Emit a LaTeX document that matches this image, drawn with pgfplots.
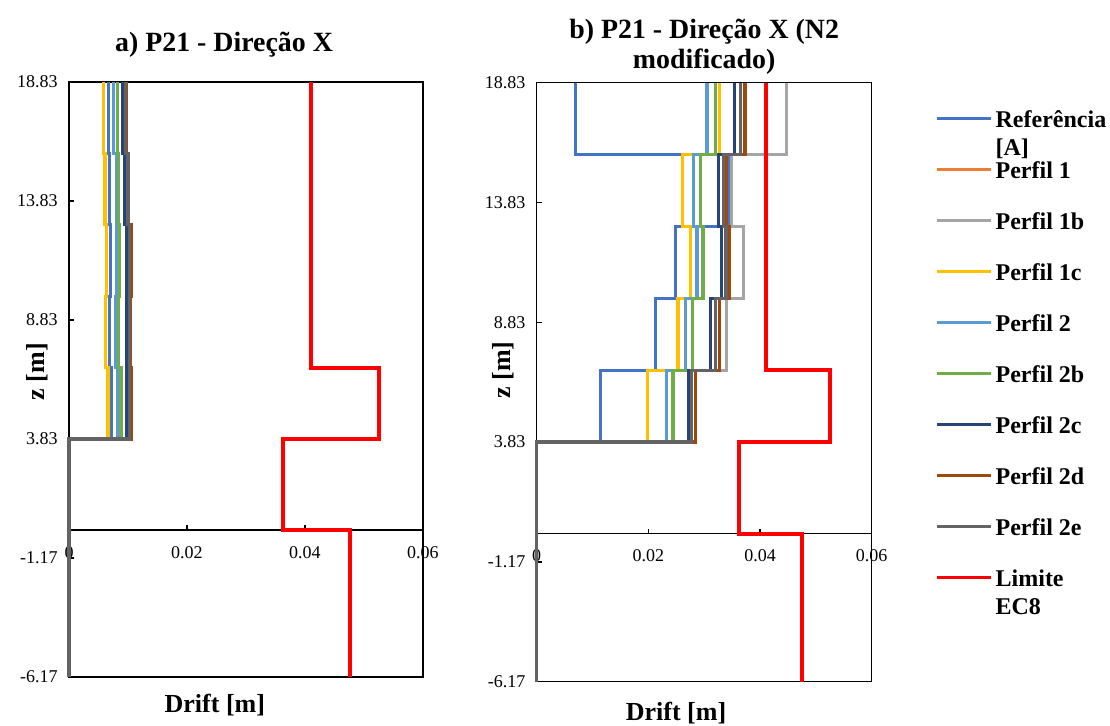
\documentclass[border=0pt]{standalone}
\usepackage{fontspec}
\setmainfont{Liberation Serif}
\usepackage{pgfplots}
\pgfplotsset{compat=1.18}
\definecolor{cRef}{HTML}{4472C4}
\definecolor{cP1}{HTML}{ED7D31}
\definecolor{cP1b}{HTML}{A5A5A5}
\definecolor{cP1c}{HTML}{FFC000}
\definecolor{cP2}{HTML}{5B9BD5}
\definecolor{cP2b}{HTML}{70AD47}
\definecolor{cP2c}{HTML}{264478}
\definecolor{cP2d}{HTML}{9E480E}
\definecolor{cP2e}{HTML}{636363}
\definecolor{cLim}{HTML}{FF0000}
\pgfplotsset{
  driftaxis/.style={
    scale only axis, anchor=south west,
    xmin=0, xmax=0.06, ymin=-6.17, ymax=18.83,
    axis x line=middle, axis y line=left,
    every inner x axis line/.append style={-},
    every outer x axis line/.append style={-},
    every inner y axis line/.append style={-},
    every outer y axis line/.append style={-},
    axis line style={-, black, line width=1pt},
    axis background/.style={draw=black, line width=1pt},
    hide obscured x ticks=false, hide obscured y ticks=false,
    scaled x ticks=false, scaled y ticks=false,
    xtick={0,0.02,0.04,0.06}, xticklabels={0,0.02,0.04,0.06},
    ytick={-6.17,-1.17,3.83,8.83,13.83,18.83},
    yticklabels={-6.17,-1.17,3.83,8.83,13.83,18.83},
    tick align=inside, major tick length=3.75pt,
    tick style={black, line width=1pt},
    tick label style={font=\fontsize{13.5}{15}\selectfont},
    xticklabel style={yshift=-8.4pt},
    yticklabel style={xshift=-5pt},
    clip=false,
    every axis plot/.append style={line width=2.4pt, line join=miter, no markers},
    every axis title/.style={font=\bfseries\fontsize{20.9}{22.5}\selectfont, align=center, anchor=south},
    every axis x label/.style={font=\bfseries\fontsize{19.5}{22.5}\selectfont, anchor=center},
    every axis y label/.style={font=\bfseries\fontsize{19.5}{22.5}\selectfont, anchor=center, rotate=90},
    xlabel={Drift [m]}, ylabel={z [m]},
  }
}
\begin{document}
\begin{tikzpicture}
\path[use as bounding box] (0pt,0pt) rectangle (832.5pt,543.75pt);
% ---------------- panel a ----------------
\begin{axis}[driftaxis, at={(51.75pt,36pt)}, width=265.5pt, height=446.25pt,
  title={a) P21 - Direção X},
  title style={at={(0.438,1.0336)}},
  xlabel style={at={(0.412,-0.047)}},
  ylabel style={at={(-0.0904,0.513)}},
]
\addplot[cRef] coordinates {(0,-6.17) (0,3.83) (0.0072,3.83) (0.0072,6.83) (0.0069,6.83) (0.0069,9.83) (0.0070,9.83) (0.0070,12.83) (0.0068,12.83) (0.0068,15.83) (0.0067,15.83) (0.0067,18.83)};
\addplot[cP1] coordinates {(0,-6.17) (0,3.83) (0.0105,3.83) (0.0105,6.83) (0.0104,6.83) (0.0104,9.83) (0.0105,9.83) (0.0105,12.83) (0.0101,12.83) (0.0101,15.83) (0.0097,15.83) (0.0097,18.83)};
\addplot[cP1b] coordinates {(0,-6.17) (0,3.83) (0.0103,3.83) (0.0103,6.83) (0.0102,6.83) (0.0102,9.83) (0.0102,9.83) (0.0102,12.83) (0.0100,12.83) (0.0100,15.83) (0.0096,15.83) (0.0096,18.83)};
\addplot[cP1c] coordinates {(0,-6.17) (0,3.83) (0.0066,3.83) (0.0066,6.83) (0.0062,6.83) (0.0062,9.83) (0.0063,9.83) (0.0063,12.83) (0.0061,12.83) (0.0061,15.83) (0.0059,15.83) (0.0059,18.83)};
\addplot[cP2] coordinates {(0,-6.17) (0,3.83) (0.0083,3.83) (0.0083,6.83) (0.0079,6.83) (0.0079,9.83) (0.0080,9.83) (0.0080,12.83) (0.0080,12.83) (0.0080,15.83) (0.0076,15.83) (0.0076,18.83)};
\addplot[cP2b] coordinates {(0,-6.17) (0,3.83) (0.0088,3.83) (0.0088,6.83) (0.0084,6.83) (0.0084,9.83) (0.0085,9.83) (0.0085,12.83) (0.0084,12.83) (0.0084,15.83) (0.0082,15.83) (0.0082,18.83)};
\addplot[cP2c] coordinates {(0,-6.17) (0,3.83) (0.0098,3.83) (0.0098,6.83) (0.0097,6.83) (0.0097,9.83) (0.0098,9.83) (0.0098,12.83) (0.0095,12.83) (0.0095,15.83) (0.0091,15.83) (0.0091,18.83)};
\addplot[cP2d] coordinates {(0,-6.17) (0,3.83) (0.0105,3.83) (0.0105,6.83) (0.0104,6.83) (0.0104,9.83) (0.0105,9.83) (0.0105,12.83) (0.0101,12.83) (0.0101,15.83) (0.0097,15.83) (0.0097,18.83)};
\addplot[cP2e] coordinates {(0,-6.17) (0,3.83) (0.0103,3.83) (0.0103,6.83) (0.0102,6.83) (0.0102,9.83) (0.0102,9.83) (0.0102,12.83) (0.0100,12.83) (0.0100,15.83) (0.0096,15.83) (0.0096,18.83)};
\addplot[cLim, line width=3pt] coordinates {(0.0476,-6.17) (0.0476,0) (0.0363,0) (0.0363,3.83) (0.0525,3.83) (0.0525,6.83) (0.0410,6.83) (0.0410,18.83)};
\end{axis}
% ---------------- panel b ----------------
\begin{axis}[driftaxis, at={(402.5pt,32.5pt)}, width=251.25pt, height=449.25pt,
  title={b) P21 - Direção X (N2\\modificado)},
  title style={at={(0.5,1.006)}},
  xlabel style={at={(0.416,-0.0523)}},
  ylabel style={at={(-0.1006,0.52)}},
  legend style={draw=none, fill=none, at={(1.192,0.963)}, anchor=north west,
    inner sep=0pt, outer sep=0pt, row sep=17.25pt, column sep=0pt,
    nodes={text height=15pt, text depth=2pt, inner sep=2pt,
      font=\bfseries\fontsize{18}{21}\selectfont}},
  legend cell align=left,
  legend image code/.code={\draw[#1, line width=2.25pt] (0pt,0pt) -- (40.5pt,0pt);},
]
\addplot[cRef] coordinates {(0,-6.17) (0,3.83) (0.0115,3.83) (0.0115,6.83) (0.0213,6.83) (0.0213,9.83) (0.0249,9.83) (0.0249,12.83) (0.0345,12.83) (0.0345,15.83) (0.0070,15.83) (0.0070,18.83)};
\addlegendentry{\rlap{\raisebox{-21pt}[0pt][0pt]{[A]}}Referência}
\addplot[cP1] coordinates {(0,-6.17) (0,3.83) (0.0284,3.83) (0.0284,6.83) (0.0327,6.83) (0.0327,9.83) (0.0346,9.83) (0.0346,12.83) (0.0340,12.83) (0.0340,15.83) (0.0373,15.83) (0.0373,18.83)};
\addlegendentry{Perfil 1}
\addplot[cP1b] coordinates {(0,-6.17) (0,3.83) (0.0278,3.83) (0.0278,6.83) (0.0340,6.83) (0.0340,9.83) (0.0370,9.83) (0.0370,12.83) (0.0349,12.83) (0.0349,15.83) (0.0448,15.83) (0.0448,18.83)};
\addlegendentry{Perfil 1b}
\addplot[cP1c] coordinates {(0,-6.17) (0,3.83) (0.0198,3.83) (0.0198,6.83) (0.0253,6.83) (0.0253,9.83) (0.0275,9.83) (0.0275,12.83) (0.0261,12.83) (0.0261,15.83) (0.0328,15.83) (0.0328,18.83)};
\addlegendentry{Perfil 1c}
\addplot[cP2] coordinates {(0,-6.17) (0,3.83) (0.0232,3.83) (0.0232,6.83) (0.0267,6.83) (0.0267,9.83) (0.0287,9.83) (0.0287,12.83) (0.0281,12.83) (0.0281,15.83) (0.0305,15.83) (0.0305,18.83)};
\addlegendentry{Perfil 2}
\addplot[cP2b] coordinates {(0,-6.17) (0,3.83) (0.0244,3.83) (0.0244,6.83) (0.0279,6.83) (0.0279,9.83) (0.0298,9.83) (0.0298,12.83) (0.0294,12.83) (0.0294,15.83) (0.0320,15.83) (0.0320,18.83)};
\addlegendentry{Perfil 2b}
\addplot[cP2c] coordinates {(0,-6.17) (0,3.83) (0.0272,3.83) (0.0272,6.83) (0.0312,6.83) (0.0312,9.83) (0.0331,9.83) (0.0331,12.83) (0.0325,12.83) (0.0325,15.83) (0.0355,15.83) (0.0355,18.83)};
\addlegendentry{Perfil 2c}
\addplot[cP2d] coordinates {(0,-6.17) (0,3.83) (0.0284,3.83) (0.0284,6.83) (0.0327,6.83) (0.0327,9.83) (0.0346,9.83) (0.0346,12.83) (0.0340,12.83) (0.0340,15.83) (0.0373,15.83) (0.0373,18.83)};
\addlegendentry{Perfil 2d}
\addplot[cP2e] coordinates {(0,-6.17) (0,3.83) (0.0277,3.83) (0.0277,6.83) (0.0321,6.83) (0.0321,9.83) (0.0339,9.83) (0.0339,12.83) (0.0334,12.83) (0.0334,15.83) (0.0365,15.83) (0.0365,18.83)};
\addlegendentry{Perfil 2e}
\addplot[cLim, line width=3pt] coordinates {(0.0476,-6.17) (0.0476,0) (0.0363,0) (0.0363,3.83) (0.0525,3.83) (0.0525,6.83) (0.0410,6.83) (0.0410,18.83)};
\addlegendentry{\rlap{\raisebox{-21pt}[0pt][0pt]{EC8}}Limite}
\end{axis}
\end{tikzpicture}
\end{document}
